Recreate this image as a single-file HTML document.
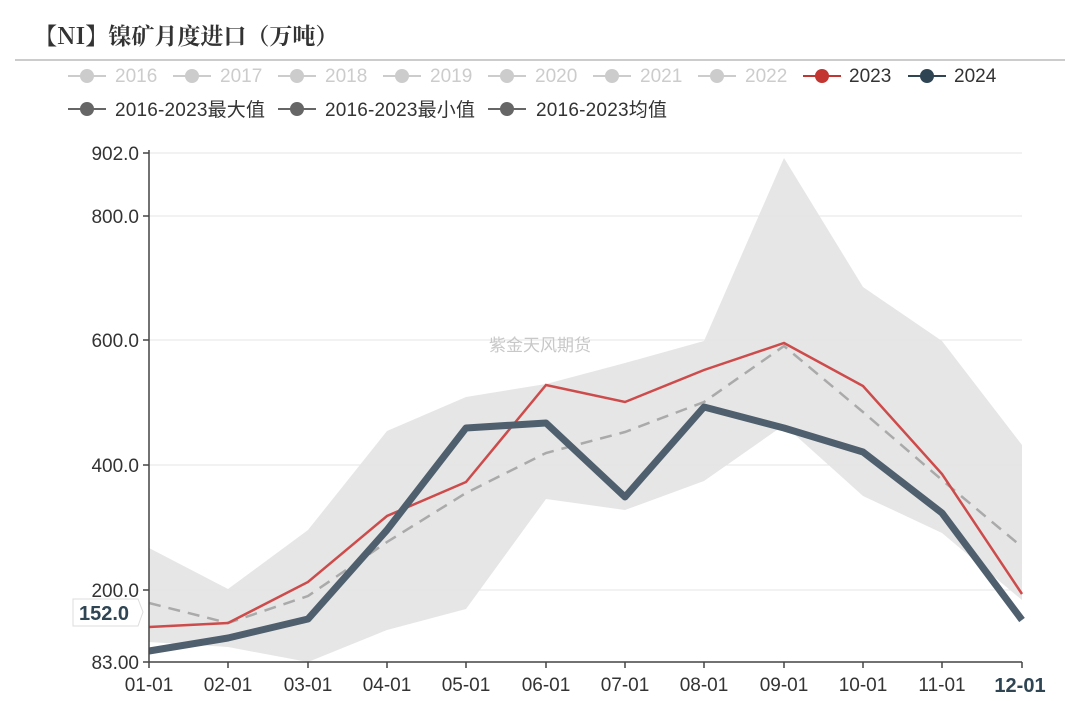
<!DOCTYPE html><html><head><meta charset="utf-8"><style>body{margin:0;background:#fff}svg{display:block;font-family:"Liberation Sans","Noto Sans CJK SC",sans-serif}</style></head><body>
<svg width="1080" height="701" xmlns="http://www.w3.org/2000/svg">
<text x="34" y="44" font-family="'Noto Serif CJK SC',serif" font-weight="bold" font-size="23" fill="#333">【NI】镍矿月度进口（万吨）</text>
<line x1="15" y1="60" x2="1065" y2="60" stroke="#bbb" stroke-width="1.5"/>
<g font-size="19">
<g fill="#ccc" stroke="#ccc">
<line x1="68" y1="76" x2="106" y2="76" stroke-width="2"/><circle cx="87" cy="76" r="7" stroke="none"/><text x="115" y="82" stroke="none">2016</text>
<line x1="173" y1="76" x2="211" y2="76" stroke-width="2"/><circle cx="192" cy="76" r="7" stroke="none"/><text x="220" y="82" stroke="none">2017</text>
<line x1="278" y1="76" x2="316" y2="76" stroke-width="2"/><circle cx="297" cy="76" r="7" stroke="none"/><text x="325" y="82" stroke="none">2018</text>
<line x1="383" y1="76" x2="421" y2="76" stroke-width="2"/><circle cx="402" cy="76" r="7" stroke="none"/><text x="430" y="82" stroke="none">2019</text>
<line x1="488" y1="76" x2="526" y2="76" stroke-width="2"/><circle cx="507" cy="76" r="7" stroke="none"/><text x="535" y="82" stroke="none">2020</text>
<line x1="593" y1="76" x2="631" y2="76" stroke-width="2"/><circle cx="612" cy="76" r="7" stroke="none"/><text x="640" y="82" stroke="none">2021</text>
<line x1="698" y1="76" x2="736" y2="76" stroke-width="2"/><circle cx="717" cy="76" r="7" stroke="none"/><text x="745" y="82" stroke="none">2022</text>
</g>
<line x1="803" y1="76" x2="841" y2="76" stroke="#c23531" stroke-width="2"/><circle cx="822" cy="76" r="7" fill="#c23531"/><text x="849" y="82" fill="#333">2023</text>
<line x1="908" y1="76" x2="946" y2="76" stroke="#2f4554" stroke-width="2"/><circle cx="927" cy="76" r="7" fill="#2f4554"/><text x="954" y="82" fill="#333">2024</text>
<g fill="#666"><line x1="68" y1="109" x2="106" y2="109" stroke="#666" stroke-width="2"/><circle cx="87" cy="109" r="7"/>
<line x1="278" y1="109" x2="316" y2="109" stroke="#666" stroke-width="2"/><circle cx="297" cy="109" r="7"/>
<line x1="488" y1="109" x2="526" y2="109" stroke="#666" stroke-width="2"/><circle cx="507" cy="109" r="7"/></g>
<g fill="#333"><text x="115" y="116" textLength="150">2016-2023最大值</text><text x="325" y="116" textLength="150">2016-2023最小值</text><text x="536" y="116" textLength="131">2016-2023均值</text></g>
</g>
<g stroke="#e6e6e6" stroke-width="1"><line x1="149" y1="153" x2="1022" y2="153"/><line x1="149" y1="216" x2="1022" y2="216"/><line x1="149" y1="340" x2="1022" y2="340"/><line x1="149" y1="465" x2="1022" y2="465"/><line x1="149" y1="590" x2="1022" y2="590"/></g>
<polygon fill="#e3e3e3" opacity="0.9" points="149,548 228,589 308,530 387,431 466,397 546,384 625,363 704,341 784,158 863,287 942,341 1022,445 1022,600 942,533 863,496 784,425 704,481 625,510 546,499 466,609 387,630 308,662 228,647 149,642"/>
<text x="540" y="351" font-size="17" fill="#c8c8c8" text-anchor="middle" font-family="'Noto Sans CJK SC',sans-serif">紫金天风期货</text>
<polyline fill="none" stroke="#aaa" stroke-width="2.5" stroke-dasharray="12,8" points="149,603 228,623 308,596 387,542 466,493 546,453 625,432 704,402 784,346 863,412 942,480 1022,547"/>
<polyline fill="none" stroke="#cd4b4b" stroke-width="2.5" points="149,627 228,623 308,582 387,516 466,482 546,385 625,402 704,370 784,343 863,386 942,474 1022,594"/>
<polyline fill="none" stroke="#4f5f6d" stroke-width="7" stroke-linejoin="round" points="149,651 228,638 308,619 387,530 466,428 546,423 625,497 704,407 784,428 863,452 942,513 1022,620"/>
<line x1="149" y1="150" x2="149" y2="662" stroke="#444" stroke-width="1.5"/>
<line x1="149" y1="662" x2="1022" y2="662" stroke="#444" stroke-width="1.5"/>
<g stroke="#444" stroke-width="1.5"><line x1="143" y1="153" x2="149" y2="153"/><line x1="143" y1="216" x2="149" y2="216"/><line x1="143" y1="340" x2="149" y2="340"/><line x1="143" y1="465" x2="149" y2="465"/><line x1="143" y1="590" x2="149" y2="590"/><line x1="143" y1="662" x2="149" y2="662"/>
<line x1="149" y1="662" x2="149" y2="668"/><line x1="228" y1="662" x2="228" y2="668"/><line x1="308" y1="662" x2="308" y2="668"/><line x1="387" y1="662" x2="387" y2="668"/><line x1="466" y1="662" x2="466" y2="668"/><line x1="546" y1="662" x2="546" y2="668"/><line x1="625" y1="662" x2="625" y2="668"/><line x1="704" y1="662" x2="704" y2="668"/><line x1="784" y1="662" x2="784" y2="668"/><line x1="863" y1="662" x2="863" y2="668"/><line x1="942" y1="662" x2="942" y2="668"/><line x1="1022" y1="662" x2="1022" y2="668"/></g>
<g font-size="19" fill="#333" text-anchor="end"><text x="139" y="160">902.0</text><text x="139" y="223">800.0</text><text x="139" y="347">600.0</text><text x="139" y="472">400.0</text><text x="139" y="597">200.0</text><text x="139" y="669">83.00</text></g>
<path d="M73,599 H138 L143,612 L138,626 H73 Z" fill="#fff" stroke="#ddd"/>
<text x="79" y="620" font-size="20" font-weight="bold" fill="#2f4554">152.0</text>
<g font-size="19" fill="#333" text-anchor="middle"><text x="149" y="691">01-01</text><text x="228" y="691">02-01</text><text x="308" y="691">03-01</text><text x="387" y="691">04-01</text><text x="466" y="691">05-01</text><text x="546" y="691">06-01</text><text x="625" y="691">07-01</text><text x="704" y="691">08-01</text><text x="784" y="691">09-01</text><text x="863" y="691">10-01</text><text x="942" y="691">11-01</text><text x="1020" y="692" font-weight="bold" font-size="20" fill="#2f4554">12-01</text></g>
</svg></body></html>
